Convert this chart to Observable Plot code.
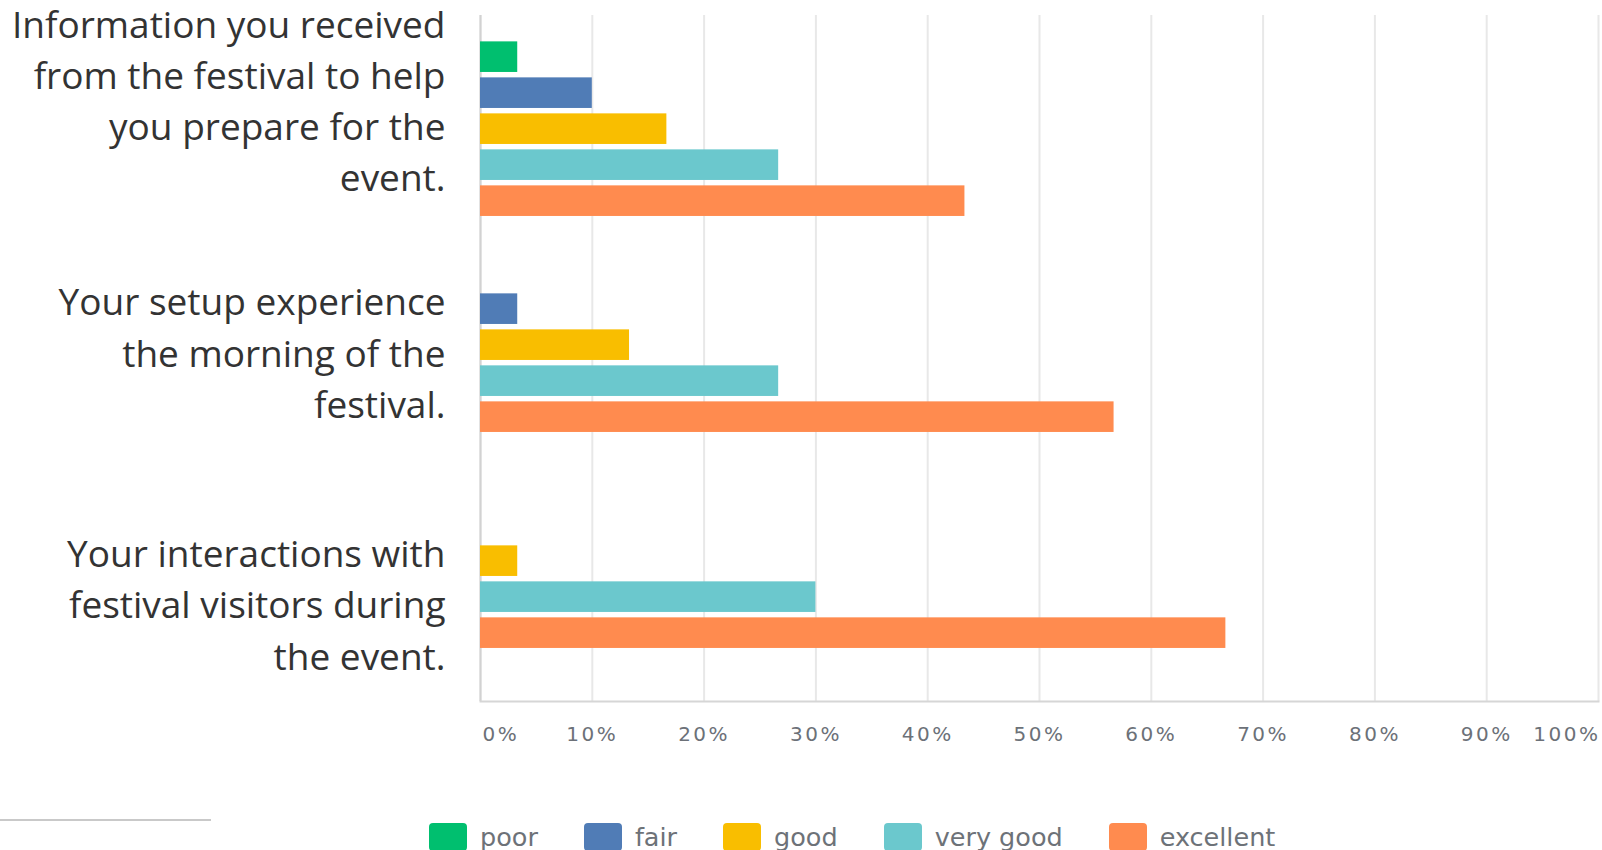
<!DOCTYPE html>
<html>
<head>
<meta charset="utf-8">
<script src="https://cdn.jsdelivr.net/npm/d3@7"></script>
<script src="https://cdn.jsdelivr.net/npm/@observablehq/plot@0.6"></script>
<style>
  html, body { margin: 0; padding: 0; background: #fff; }
  #chart { width: 1602px; }
  g[aria-label="x-axis tick label"] text { letter-spacing: 2.5px; }
  #legend { position: relative; width: 1602px; height: 45px; font-family: "DejaVu Sans", sans-serif; }
  #legend .line { position: absolute; left: 0; top: 14px; width: 211px; height: 2px; background: #c9c9c9; }
  #legend .items { position: absolute; left: 429px; top: 17px; display: flex; gap: 46px; }
  #legend .item { display: flex; align-items: center; }
  #legend .sw { width: 38px; height: 28px; border-radius: 4px; margin-right: 13px; }
  #legend .lab { font-size: 25.5px; line-height: 27px; color: #6d7278; padding-top: 2px; }
</style>
</head>
<body>
<div id="chart"></div>
<div id="legend"></div>
<script>
// ---- data ----
const questions = ["information", "setup", "interactions"];
const questionLabels = [
  "Information you received\nfrom the festival to help\nyou prepare for the\nevent.",
  "Your setup experience\nthe morning of the\nfestival.",
  "Your interactions with\nfestival visitors during\nthe event."
];
const labelAnchors = ["fair", "good", "very good"];
const ratings = ["poor", "fair", "good", "very good", "excellent"];
const ratingColors = ["#00BF6F", "#507CB6", "#F9BE00", "#6BC8CD", "#FF8B4F"];
const informationValues = [3.33, 10, 16.67, 26.67, 43.33];
const setupValues = [0, 3.33, 13.33, 26.67, 56.67];
const interactionValues = [0, 0, 3.33, 30, 66.67];
const tickValues = [0, 10, 20, 30, 40, 50, 60, 70, 80, 90, 100];

// ---- tables ----
const seriesValues = [informationValues, setupValues, interactionValues];
const table = [];
questions.forEach((q, qi) => {
  ratings.forEach((r, ri) => {
    table.push({key: q + "|" + r, question: q, rating: r, value: seriesValues[qi][ri]});
  });
});
const yDomain = [];
questions.forEach((q, qi) => {
  ratings.forEach(r => yDomain.push(q + "|" + r));
  if (qi < questions.length - 1) yDomain.push("gap" + qi);
});
const labelTable = questions.map((q, qi) => ({key: q + "|" + labelAnchors[qi], text: questionLabels[qi], x: 0}));

const fmt = d => d + "%";
const tickStyle = {tickSize: 0, tickPadding: 25, tickFormat: fmt, fontSize: 20, fill: "#6c7178", fontFamily: "DejaVu Sans"};

const chart = Plot.plot({
  width: 1602,
  height: 805,
  marginLeft: 480,
  marginRight: 4,
  marginTop: 15,
  marginBottom: 104,
  style: {fontFamily: "DejaVu Sans", background: "white", overflow: "visible"},
  x: {domain: [0, 100]},
  y: {domain: yDomain, paddingInner: 0.15, paddingOuter: 1.103, align: 0.332, round: false, axis: null},
  color: {domain: ratings, range: ratingColors},
  marks: [
    Plot.gridX(tickValues, {stroke: "#e8e8e8", strokeOpacity: 1, strokeWidth: 2}),
    Plot.ruleX([0], {stroke: "#d2d2d2", strokeWidth: 2}),
    Plot.frame({anchor: "bottom", stroke: "#d6d6d6", strokeWidth: 2}),
    Plot.barX(table.filter(d => d.value > 0), {x: "value", y: "key", fill: "rating"}),
    Plot.text(labelTable, {
      x: "x", y: "key", text: "text", textAnchor: "end", lineAnchor: "middle",
      dx: -35, dy: 5, fontSize: 37, lineHeight: 1.38, fill: "#333333", fontFamily: "Open Sans"
    }),
    Plot.axisX({...tickStyle, ticks: tickValues.slice(0, 1), textAnchor: "start", dx: 2}),
    Plot.axisX({...tickStyle, ticks: tickValues.slice(1, -1)}),
    Plot.axisX({...tickStyle, ticks: tickValues.slice(-1), textAnchor: "end", dx: 2})
  ]
});
document.getElementById("chart").appendChild(chart);

// ---- legend ----
const legend = document.getElementById("legend");
legend.innerHTML = '<div class="line"></div><div class="items">' +
  ratings.map((r, i) => `<div class="item"><div class="sw" style="background:${ratingColors[i]}"></div><span class="lab">${r}</span></div>`).join("") +
  '</div>';
</script>
</body>
</html>
